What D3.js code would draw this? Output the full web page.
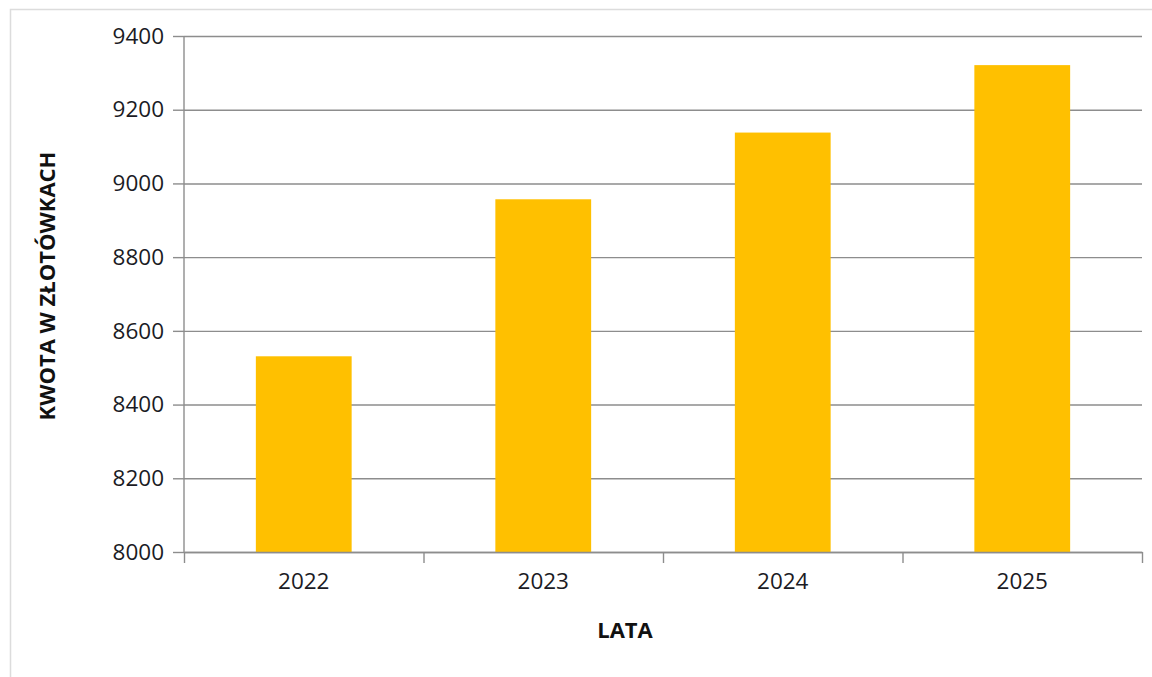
<!DOCTYPE html>
<html>
<head>
<meta charset="utf-8">
<script src="https://cdn.jsdelivr.net/npm/d3@7"></script>
<style>
  html, body { margin: 0; padding: 0; background: #fff; }
  svg { display: block; }
  .tick text { fill: #1b1b24; }
  .axis-title { font-weight: bold; fill: #111; }
</style>
</head>
<body>
<svg id="chart" width="1152" height="677"></svg>
<script>
const years = ["2022", "2023", "2024", "2025"];
const amounts = [8531, 8957, 9138, 9321];
const yTicks = [8000, 8200, 8400, 8600, 8800, 9000, 9200, 9400];

const W = 1152;
const H = 677;
const FONT = "'Open Sans', sans-serif";
const margin = { top: 36, right: 10, bottom: 125, left: 184 };
const plotRight = W - margin.right;
const plotBottom = H - margin.bottom;

const svg = d3.select("#chart").attr("font-family", FONT);

// light chart frame
svg.append("path")
  .attr("d", `M10.5,${H} V9.5 H${W}`)
  .attr("fill", "none")
  .attr("stroke", "#dcdcdc")
  .attr("stroke-width", 1.5);

const x = d3.scaleBand()
  .domain(years)
  .range([margin.left, plotRight])
  .paddingInner(0.6)
  .paddingOuter(0.3);

const xEdges = d3.scaleLinear()
  .domain([0, years.length])
  .range([margin.left, plotRight]);

const y = d3.scaleLinear()
  .domain([8000, 9400])
  .range([plotBottom, margin.top]);

// gridlines + left ticks
svg.append("g")
  .attr("transform", `translate(${margin.left},0)`)
  .call(d3.axisLeft(y).tickValues(yTicks).tickSize(11).tickPadding(9).tickFormat(d3.format("d")))
  .attr("font-family", FONT)
  .attr("font-size", 22.5)
  .call(g => g.select(".domain").remove())
  .call(g => g.selectAll(".tick line").attr("stroke", "#8d8d8d").attr("stroke-width", 1.4))
  .call(g => g.selectAll(".tick").append("line")
    .attr("x1", 0).attr("x2", plotRight - margin.left)
    .attr("stroke", "#8d8d8d").attr("stroke-width", 1.4));

// bars
svg.append("g")
  .selectAll("rect")
  .data(years.map((yr, i) => ({ yr, v: amounts[i] })))
  .join("rect")
  .attr("x", d => x(d.yr))
  .attr("width", x.bandwidth())
  .attr("y", d => y(d.v))
  .attr("height", d => y(8000) - y(d.v))
  .attr("fill", "#FFC000");

// y axis line
svg.append("line")
  .attr("x1", margin.left).attr("x2", margin.left)
  .attr("y1", margin.top).attr("y2", plotBottom)
  .attr("stroke", "#8d8d8d").attr("stroke-width", 1.4);

// x axis: boundary ticks
svg.append("g")
  .attr("transform", `translate(0,${plotBottom})`)
  .call(d3.axisBottom(xEdges).ticks(years.length).tickSize(11).tickFormat("").tickSizeOuter(0))
  .call(g => g.select(".domain").attr("stroke", "#8d8d8d").attr("stroke-width", 1.4))
  .call(g => g.selectAll(".tick line").attr("stroke", "#8d8d8d").attr("stroke-width", 1.4));

// x axis: category labels
svg.append("g")
  .attr("transform", `translate(0,${plotBottom})`)
  .call(d3.axisBottom(x).tickSize(0).tickPadding(21))
  .attr("font-family", FONT)
  .attr("font-size", 22.5)
  .call(g => g.select(".domain").remove());

// axis titles
svg.append("text")
  .attr("class", "axis-title")
  .attr("x", 625)
  .attr("y", 638)
  .attr("text-anchor", "middle")
  .attr("font-size", 22)
  .text("LATA");

svg.append("text")
  .attr("class", "axis-title")
  .attr("transform", "translate(55,286) rotate(-90)")
  .attr("text-anchor", "middle")
  .attr("font-size", 22)
  .text("KWOTA W ZŁOTÓWKACH");
</script>
</body>
</html>
